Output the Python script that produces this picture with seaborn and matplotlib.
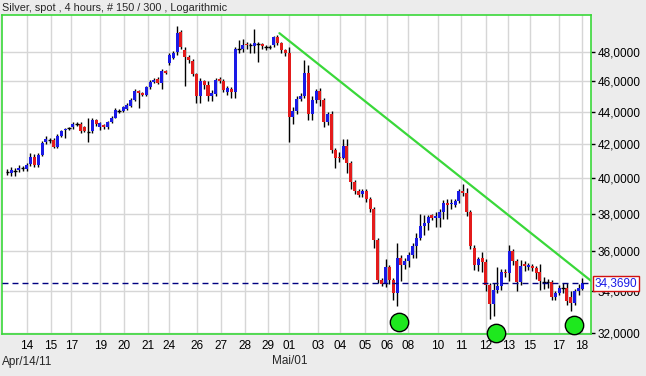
import numpy as np
import pandas as pd
import matplotlib
matplotlib.use("Agg")
import matplotlib.pyplot as plt
import matplotlib.transforms as mtransforms
from matplotlib.ticker import FixedLocator, NullLocator, FuncFormatter
import seaborn as sns

# 4-hour candles, silver spot (USD)
opens = [40.34, 40.30, 40.41, 40.47, 40.57, 40.52, 40.80, 41.25, 40.76, 41.36,
         42.15, 42.26, 42.25, 41.85, 42.50, 42.85, 42.98, 43.05, 43.23, 43.25,
         43.05, 42.76, 42.83, 43.50, 43.05, 43.20, 43.05, 43.35, 43.65, 44.09,
         44.06, 44.20, 44.40, 44.77, 45.38, 45.25, 45.10, 45.60, 45.98, 46.12,
         45.90, 46.68, 47.20, 47.60, 47.95, 49.35, 48.15, 47.65, 47.36, 46.46,
         45.02, 46.00, 45.78, 45.02, 45.15, 46.12, 46.03, 45.32, 45.48, 45.32,
         48.18, 48.18, 48.55, 48.46, 48.40, 48.55, 48.55, 48.35, 48.35, 48.46,
         49.05, 48.62, 48.12, 47.90, 43.70, 44.05, 44.85, 45.05, 46.55, 43.87,
         44.80, 45.35, 44.77, 43.40, 43.90, 41.65, 41.25, 41.18, 41.92, 40.87,
         39.80, 39.28, 39.08, 39.25, 38.82, 38.27, 36.60, 34.55, 34.32, 35.20,
         34.55, 33.90, 35.65, 35.30, 35.50, 35.80, 36.25, 36.70, 37.32, 37.47,
         37.90, 37.75, 37.78, 38.10, 38.56, 38.52, 38.45, 38.68, 39.25, 39.15,
         38.10, 36.15, 35.30, 35.62, 35.45, 34.30, 33.37, 34.05, 34.23, 34.95,
         34.88, 35.98, 35.50, 34.45, 35.35, 35.20, 35.25, 35.15, 34.92, 34.45,
         34.42, 34.45, 33.70, 33.90, 34.12, 34.15, 33.70, 33.40, 33.98, 34.10]
highs = [40.52, 40.65, 40.60, 40.75, 40.70, 40.90, 41.50, 41.40, 41.50, 42.20,
         42.50, 42.40, 42.40, 42.60, 42.90, 43.00, 43.05, 43.35, 43.40, 43.40,
         43.10, 43.60, 43.60, 43.55, 43.40, 43.25, 43.45, 43.75, 44.25, 44.20,
         44.40, 44.60, 44.90, 45.50, 45.45, 45.30, 45.70, 46.10, 46.20, 46.25,
         46.80, 46.75, 47.90, 48.05, 49.80, 49.50, 48.30, 47.80, 47.50, 46.55,
         46.20, 46.10, 46.00, 45.40, 46.20, 46.25, 46.15, 45.70, 45.60, 48.30,
         48.80, 48.90, 48.70, 48.60, 49.60, 48.70, 48.60, 48.50, 48.50, 49.10,
         49.20, 48.70, 48.20, 48.30, 44.30, 45.00, 45.20, 47.40, 47.10, 45.00,
         45.50, 45.55, 44.90, 44.00, 44.05, 41.80, 41.55, 42.30, 42.30, 41.00,
         39.90, 39.35, 39.40, 39.40, 38.90, 38.35, 36.70, 34.65, 35.60, 35.30,
         34.65, 36.45, 35.80, 35.65, 35.95, 36.40, 36.95, 38.00, 37.95, 37.95,
         38.00, 38.10, 38.25, 38.75, 38.80, 38.80, 38.80, 39.40, 39.65, 39.45,
         38.20, 36.30, 35.70, 35.95, 35.60, 34.40, 34.38, 35.20, 35.10, 35.10,
         36.32, 36.10, 35.60, 35.55, 35.50, 35.40, 35.35, 35.25, 35.35, 34.70,
         34.60, 34.55, 34.00, 34.30, 34.40, 34.40, 34.00, 34.10, 34.35, 34.65]
lows = [40.17, 40.12, 40.10, 40.35, 40.40, 40.42, 40.70, 40.65, 40.65, 41.30,
        42.00, 42.10, 41.80, 41.80, 42.45, 42.38, 42.85, 42.95, 43.10, 42.70,
        42.75, 42.15, 42.70, 43.15, 42.90, 42.95, 42.95, 43.30, 43.60, 43.95,
        44.00, 44.10, 44.30, 44.70, 44.23, 45.00, 45.00, 45.50, 45.90, 45.80,
        45.50, 46.50, 47.10, 47.50, 47.75, 48.20, 45.70, 47.20, 46.35, 44.60,
        44.60, 45.50, 44.70, 44.70, 45.00, 45.90, 45.30, 45.10, 44.88, 44.90,
        47.90, 48.00, 48.20, 47.90, 47.90, 47.30, 48.20, 48.15, 48.20, 48.30,
        48.50, 47.90, 47.70, 42.15, 43.25, 43.90, 44.70, 44.90, 43.50, 43.50,
        44.60, 44.40, 43.05, 43.20, 41.50, 40.60, 40.95, 41.10, 40.30, 39.40,
        39.10, 38.90, 38.95, 38.65, 38.10, 36.15, 34.38, 34.25, 34.20, 34.35,
        33.55, 33.25, 34.50, 35.10, 35.20, 35.65, 35.65, 36.60, 36.85, 37.10,
        37.65, 37.25, 37.25, 37.70, 37.70, 38.25, 38.35, 38.60, 39.00, 37.88,
        36.10, 35.03, 35.00, 34.95, 34.00, 32.65, 32.80, 33.90, 34.05, 34.70,
        34.50, 35.30, 34.00, 34.30, 35.00, 35.05, 35.00, 34.60, 34.03, 34.10,
        34.15, 33.55, 33.55, 33.80, 33.90, 33.30, 33.00, 33.30, 33.80, 34.05]
closes = [40.34, 40.47, 40.41, 40.60, 40.57, 40.76, 41.25, 40.76, 41.36, 42.10,
          42.35, 42.26, 41.85, 42.50, 42.81, 42.92, 42.98, 43.25, 43.23, 42.83,
          42.83, 42.76, 43.50, 43.25, 43.30, 43.05, 43.35, 43.60, 44.13, 44.09,
          44.30, 44.45, 44.77, 45.38, 45.25, 45.10, 45.60, 45.98, 46.08, 45.90,
          46.68, 46.56, 47.80, 47.93, 49.30, 48.35, 47.65, 47.43, 46.46, 45.02,
          46.03, 45.74, 45.02, 45.20, 46.08, 46.03, 45.42, 45.53, 45.32, 48.22,
          48.18, 48.46, 48.45, 48.46, 48.62, 48.55, 48.40, 48.35, 48.35, 49.01,
          48.62, 48.12, 47.90, 43.70, 44.05, 44.85, 45.05, 46.58, 43.87, 44.80,
          45.35, 44.77, 43.40, 43.85, 41.65, 41.20, 41.18, 41.92, 40.87, 39.80,
          39.28, 39.05, 39.27, 38.82, 38.27, 36.60, 34.55, 34.32, 35.20, 34.55,
          33.90, 35.65, 35.30, 35.50, 35.80, 36.25, 36.70, 37.32, 37.47, 37.80,
          37.78, 37.87, 38.10, 38.58, 38.50, 38.58, 38.68, 39.24, 39.15, 38.10,
          36.25, 35.30, 35.60, 35.45, 34.30, 33.37, 34.05, 34.23, 34.95, 34.88,
          35.98, 35.50, 34.45, 35.25, 35.25, 35.28, 35.15, 34.88, 34.47, 34.45,
          34.42, 33.70, 33.90, 34.15, 34.12, 33.48, 33.40, 33.98, 34.15, 34.369]

day_labels = ["14", "15", "17", "19", "20", "21", "24", "26", "27", "28", "29", "01",
              "03", "04", "05", "06", "08", "10", "11", "12", "13", "15", "17", "18"]
day_pos = [5.0, 11.2, 16.6, 24.1, 30.3, 36.4, 41.8, 49.2, 55.4, 61.5, 67.5, 73.1,
           80.6, 86.3, 92.6, 98.5, 103.9, 111.5, 117.6, 124.0, 129.8, 135.3, 142.9, 148.9]
price_ticks = [32, 34, 36, 38, 40, 42, 44, 46, 48]

last_price = 34.369
trend_x = [70.5, 151.3]
trend_y = [49.3, 34.48]
low_x = [101.6, 126.6, 146.7]
low_y = [32.5, 31.98, 32.36]

df = pd.DataFrame({"open": opens, "high": highs, "low": lows, "close": closes})
df["i"] = np.arange(len(df))

sns.set_style("white")
plt.rcParams["font.family"] = ["Liberation Sans", "DejaVu Sans"]

bg = "#ececec"
green = "#3ad83a"
fig = plt.figure(figsize=(6.46, 3.76), dpi=100, facecolor=bg)
ax = fig.add_axes([0.0031, 0.1104, 0.9122, 0.8497])
ax.set_facecolor("white")
ax.set_yscale("log")

# grid
for p in day_pos:
    ax.axvline(p, color="#d6d6d6", lw=1, zorder=0)
for v in price_ticks:
    ax.axhline(v, color="#d6d6d6", lw=1, zorder=0)

# candles
up = df[df.close > df.open]
down = df[df.close < df.open]
doji = df[df.close == df.open]
ax.vlines(df.i, df.low, df.high, color="black", lw=1, zorder=2)
ax.bar(up.i, up.close - up.open, bottom=up.open, width=0.78, color="#1a1ae6",
       linewidth=0, edgecolor="none", zorder=3)
ax.bar(down.i, down.open - down.close, bottom=down.close, width=0.78, color="#e31b1b",
       linewidth=0, edgecolor="none", zorder=3)
ax.hlines(doji.close, doji.i - 0.45, doji.i + 0.45, color="black", lw=1, zorder=3)

# last price and trend line
ax.axhline(last_price, color="#000080", lw=1, ls=(0, (4.3, 2.9)), zorder=4)
sns.lineplot(x=trend_x, y=trend_y, ax=ax, color=green, lw=1.6, zorder=4)
sns.scatterplot(x=low_x, y=low_y, ax=ax, s=175, color="#1ee81e", edgecolor="black",
                linewidth=1, zorder=6, clip_on=False)

ax.set_xlim(-1.37, 151.3)
ax.set_ylim(31.92, 50.61)

ax.xaxis.set_major_locator(FixedLocator(day_pos))
ax.set_xticklabels(day_labels)
ax.yaxis.set_major_locator(FixedLocator(price_ticks))
ax.yaxis.set_minor_locator(NullLocator())
ax.yaxis.set_major_formatter(FuncFormatter(lambda v, _: f"{v:.4f}".replace(".", ",")))
ax.yaxis.tick_right()
ax.tick_params(axis="x", length=0, pad=4, labelsize=8.5, colors="black")
ax.tick_params(axis="y", length=3, width=1, pad=1.5, labelsize=8.5,
               colors="black", direction="out")
for s in ax.spines.values():
    s.set_color(green)
    s.set_linewidth(1.2)
ax.set_xlabel("")
ax.set_ylabel("")

# price box
tr = mtransforms.blended_transform_factory(ax.transAxes, ax.transData)
ax.text(1.006, last_price, "34,3690", transform=tr, ha="left", va="center",
        fontsize=8.5, color="#1a1ae6", zorder=10, clip_on=False,
        bbox=dict(facecolor="white", edgecolor="#d01010", lw=1, pad=1.2))

fig.text(2 / 646, 1 - 8 / 376, "Silver, spot , 4 hours, # 150 / 300 , Logarithmic",
         ha="left", va="center", fontsize=7.8)
fig.text(2 / 646, 1 - 361.5 / 376, "Apr/14/11", ha="left", va="center", fontsize=8.5)
trx = mtransforms.blended_transform_factory(ax.transData, fig.transFigure)
fig.text(73.1, 1 - 361.5 / 376, "Mai/01", transform=trx, ha="center", va="center",
         fontsize=8.5)

fig.savefig("out.png", dpi=100, facecolor=fig.get_facecolor())
